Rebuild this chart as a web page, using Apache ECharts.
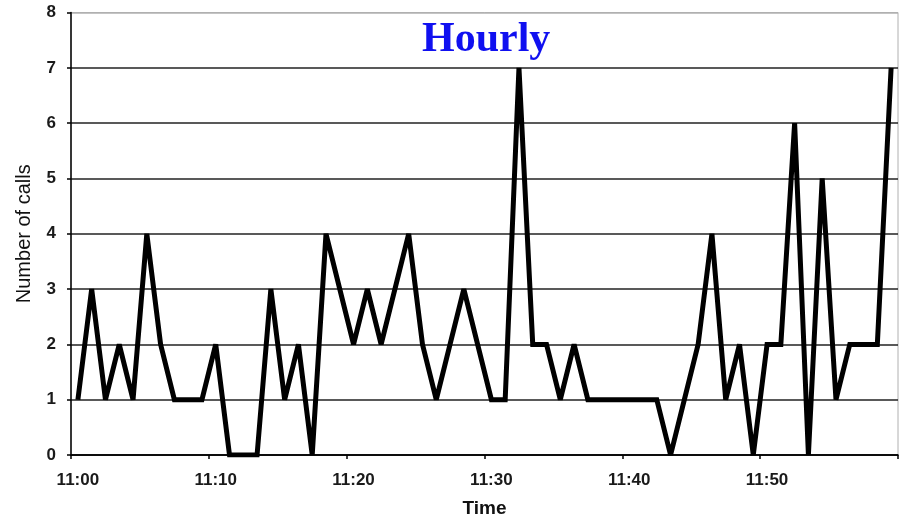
<!DOCTYPE html>
<html>
<head>
<meta charset="utf-8">
<title>Hourly</title>
<script src="https://cdn.jsdelivr.net/npm/echarts@6/dist/echarts.min.js"></script>
<style>
  html, body { margin: 0; padding: 0; background: #fff; }
  #chart { width: 899px; height: 523px; }
</style>
</head>
<body>
<div id="chart"></div>
<script>
// one point per minute, 11:00 .. 11:59
const minutes = [
  "11:00", "11:01", "11:02", "11:03", "11:04", "11:05", "11:06", "11:07", "11:08", "11:09",
  "11:10", "11:11", "11:12", "11:13", "11:14", "11:15", "11:16", "11:17", "11:18", "11:19",
  "11:20", "11:21", "11:22", "11:23", "11:24", "11:25", "11:26", "11:27", "11:28", "11:29",
  "11:30", "11:31", "11:32", "11:33", "11:34", "11:35", "11:36", "11:37", "11:38", "11:39",
  "11:40", "11:41", "11:42", "11:43", "11:44", "11:45", "11:46", "11:47", "11:48", "11:49",
  "11:50", "11:51", "11:52", "11:53", "11:54", "11:55", "11:56", "11:57", "11:58", "11:59"
];
const calls = [
  1, 3, 1, 2, 1, 4, 2, 1, 1, 1,
  2, 0, 0, 0, 3, 1, 2, 0, 4, 3,
  2, 3, 2, 3, 4, 2, 1, 2, 3, 2,
  1, 1, 7, 2, 2, 1, 2, 1, 1, 1,
  1, 1, 1, 0, 1, 2, 4, 1, 2, 0,
  2, 2, 6, 0, 5, 1, 2, 2, 2, 7
];
const yTicks = [0, 1, 2, 3, 4, 5, 6, 7, 8];

const chart = echarts.init(document.getElementById("chart"), null, { renderer: "canvas" });

const labelFont = {
  fontFamily: "Liberation Sans, Arial, sans-serif",
  fontSize: 17,
  fontWeight: "bold",
  color: "#1a1a1a"
};

chart.setOption({
  backgroundColor: "#fff",
  animation: false,
  title: {
    text: "Hourly",
    left: 422,
    top: 19,
    padding: 0,
    textStyle: {
      fontFamily: "Liberation Serif, Times New Roman, serif",
      fontSize: 42,
      fontWeight: "bold",
      color: "#1010f0"
    }
  },
  grid: {
    left: 71,
    right: 1,
    top: 12.5,
    bottom: 67,
    show: true,
    borderColor: "#b0b0b0",
    borderWidth: 1
  },
  xAxis: {
    type: "category",
    data: minutes,
    boundaryGap: true,
    name: "Time",
    nameLocation: "middle",
    nameGap: 44,
    nameTextStyle: {
      fontFamily: "Liberation Sans, Arial, sans-serif",
      fontSize: 19,
      fontWeight: "bold",
      color: "#111"
    },
    axisLine: { lineStyle: { color: "#000", width: 1.5 } },
    axisTick: { show: true, interval: 9, length: 4, lineStyle: { color: "#000", width: 1.5 } },
    axisLabel: Object.assign({ interval: 9, margin: 17 }, labelFont),
    splitLine: { show: false }
  },
  yAxis: {
    type: "value",
    min: yTicks[0],
    max: yTicks[yTicks.length - 1],
    interval: 1,
    name: "Number of calls",
    nameLocation: "middle",
    nameRotate: 90,
    nameGap: 37,
    nameTextStyle: {
      fontFamily: "Liberation Sans, Arial, sans-serif",
      fontSize: 20,
      color: "#111"
    },
    axisLine: { show: true, lineStyle: { color: "#000", width: 1.5 } },
    axisTick: { show: true, length: 4, lineStyle: { color: "#000", width: 1.5 } },
    axisLabel: Object.assign({ margin: 15 }, labelFont),
    splitLine: {
      show: true,
      lineStyle: {
        color: ["#000", "#222", "#222", "#222", "#222", "#222", "#222", "#222", "#b0b0b0"],
        width: 1.5
      }
    }
  },
  series: [{
    type: "line",
    data: calls,
    symbol: "none",
    lineStyle: { color: "#000", width: 5, join: "miter", miterLimit: 3 }
  }]
});
</script>
</body>
</html>
